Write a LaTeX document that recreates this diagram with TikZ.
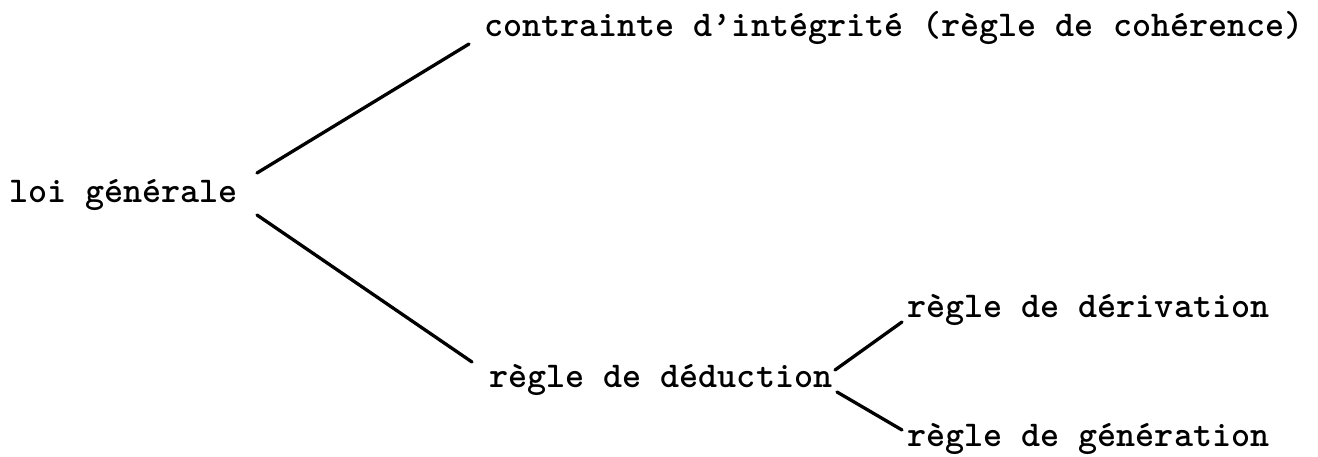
\documentclass[tikz,border=0pt]{standalone}
\usepackage{fontspec}
\tikzset{
  lbl/.style={anchor=base west, inner sep=0pt, font=\ttfamily\bfseries\fontsize{36.3}{40}\selectfont},
  branch/.style={line width=3.3pt, line cap=round}
}
\begin{document}
\begin{tikzpicture}[x=1pt,y=1pt]
\useasboundingbox (0,0) rectangle (1318,457);
\node[lbl] (loi) at (9,254) {loi générale};
\node[lbl] (con) at (484,420) {contrainte d’intégrité (règle de cohérence)};
\node[lbl] (ded) at (489,69) {règle de déduction};
\node[lbl] (der) at (907,139) {règle de dérivation};
\node[lbl] (gen) at (907,10) {règle de génération};
\coordinate (loiU) at (257,284);
\coordinate (conL) at (469,413);
\coordinate (loiD) at (257,242);
\coordinate (dedL) at (472,95);
\coordinate (dedU) at (835,87);
\coordinate (derL) at (902,135);
\coordinate (dedD) at (837,65);
\coordinate (genL) at (902,27);
\draw[branch] (loiU) -- (conL);
\draw[branch] (loiD) -- (dedL);
\draw[branch] (dedU) -- (derL);
\draw[branch] (dedD) -- (genL);
\end{tikzpicture}
\end{document}
